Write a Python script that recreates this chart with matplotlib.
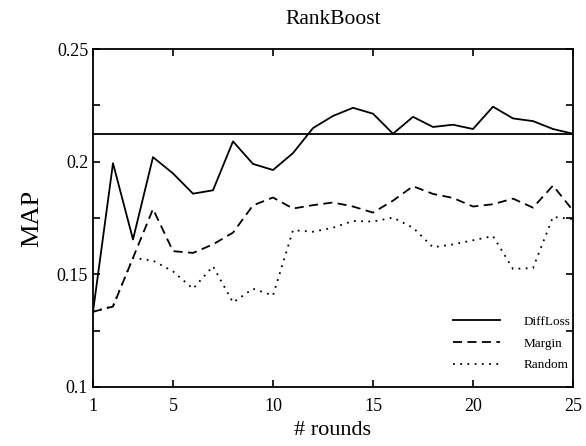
import matplotlib
matplotlib.use("Agg")
import matplotlib.pyplot as plt
from matplotlib.ticker import MultipleLocator

plt.rcParams['font.family'] = ['Liberation Serif', 'DejaVu Serif']

rounds = list(range(1, 26))
diffloss = [0.1334, 0.1993, 0.1655, 0.2020, 0.1948, 0.1858, 0.1873, 0.2090, 0.1990,
            0.1963, 0.2038, 0.2149, 0.2203, 0.2239, 0.2213, 0.2124, 0.2199, 0.2154,
            0.2164, 0.2145, 0.2244, 0.2192, 0.2180, 0.2145, 0.2124]
margin = [0.1334, 0.1357, 0.1573, 0.1790, 0.1603, 0.1595, 0.1633, 0.1685, 0.1806,
          0.1841, 0.1792, 0.1807, 0.1819, 0.1801, 0.1774, 0.1827, 0.1891, 0.1857,
          0.1839, 0.1801, 0.1811, 0.1836, 0.1796, 0.1894, 0.1783]
random_ = [0.1334, 0.1360, 0.1573, 0.1561, 0.1513, 0.1436, 0.1536, 0.1375, 0.1436,
           0.1406, 0.1696, 0.1689, 0.1707, 0.1737, 0.1734, 0.1752, 0.1707, 0.1620,
           0.1633, 0.1651, 0.1670, 0.1524, 0.1528, 0.1755, 0.1745]
baseline = 0.2124
xticks = [1, 5, 10, 15, 20, 25]
yticks = [0.1, 0.15, 0.2, 0.25]
ytick_labels = ["0.1", "0.15", "0.2", "0.25"]

fig = plt.figure(figsize=(5.86, 4.46), dpi=100)
ax = fig.add_axes([0.1587, 0.1323, 0.8191, 0.7578])

ax.axhline(baseline, color='black', lw=1.3)
ax.plot(rounds, diffloss, color='black', lw=1.3, ls='-', label='DiffLoss')
ax.plot(rounds, margin, color='black', lw=1.3, ls=(0, (5, 3)), label='Margin')
ax.plot(rounds, random_, color='black', lw=1.3, ls=(0, (1, 3)), label='Random')

ax.set_xlim(1, 25)
ax.set_ylim(0.1, 0.25)
ax.set_xticks(xticks)
ax.set_yticks(yticks)
ax.set_yticklabels(ytick_labels)
ax.yaxis.set_minor_locator(MultipleLocator(0.025))
ax.tick_params(which='both', direction='in', top=True, right=True, labelsize=13, width=1.2)
ax.tick_params(which='major', length=5)
ax.tick_params(which='minor', length=5)
ax.tick_params(axis='x', pad=8)
for s in ax.spines.values():
    s.set_linewidth(1.3)

ax.set_title('RankBoost', fontsize=15.5, pad=18)
ax.set_xlabel('# rounds', fontsize=16, labelpad=4)
ax.set_ylabel('MAP', fontsize=19, labelpad=10)

ax.legend(loc='lower right', frameon=False, fontsize=9.5, handlelength=3.6,
          handletextpad=1.75, labelspacing=0.72, borderaxespad=0,
          bbox_to_anchor=(1.005, 0.031))

fig.savefig('out.png', dpi=100)
